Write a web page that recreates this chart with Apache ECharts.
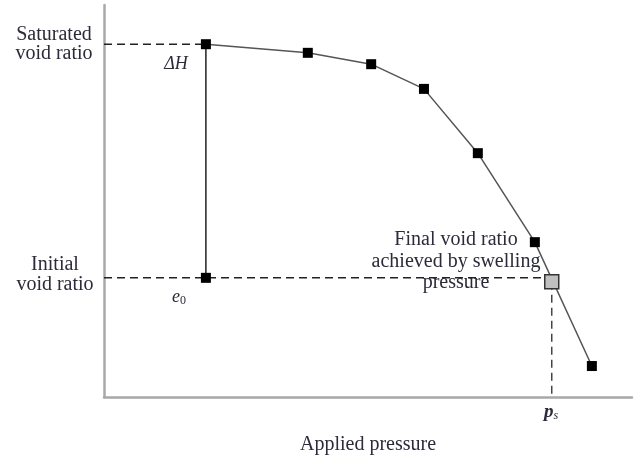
<!DOCTYPE html>
<html><head><meta charset="utf-8">
<script src="https://cdn.jsdelivr.net/npm/echarts@6/dist/echarts.min.js"></script>
<style>html,body{margin:0;padding:0;background:#fff}#c{width:641px;height:462px}</style>
</head><body><div id="c"></div>
<script>
// Applied pressure (arbitrary units) and void ratio (arbitrary units)
const pressure = [19.3, 38.6, 50.6, 60.6, 70.8, 81.6, 92.4];
const voidRatio = [90.0, 87.8, 84.9, 78.6, 62.2, 39.5, 7.9];
const saturatedE = 90.0;
const initialE = 30.4;
const startP = 19.3;
const swellP = 84.8;
const finalE = 29.4;

const chart = echarts.init(document.getElementById('c'));
const F = 'Liberation Serif';
const txt = '#2b2b3a';
function st(o) { return Object.assign({fontFamily: F, fontSize: 20, fill: txt, align: 'center'}, o); }
chart.setOption({
  animation: false,
  grid: {left: 104, right: 9, top: 5, bottom: 65},
  xAxis: {type: 'value', min: 0, max: 100, splitLine: {show: false}, axisTick: {show: false}, axisLabel: {show: false},
    axisLine: {show: true, onZero: false, lineStyle: {color: '#a8a8a8', width: 2.5}}},
  yAxis: {type: 'value', min: 0, max: 100, splitLine: {show: false}, axisTick: {show: false}, axisLabel: {show: false},
    axisLine: {show: true, onZero: false, lineStyle: {color: '#a8a8a8', width: 2.5}}},
  series: [
    {type: 'line', data: [[0, saturatedE], [startP, saturatedE]], symbol: 'none', lineStyle: {color: '#222', width: 1.5, type: [8, 5]}, z: 1},
    {type: 'line', data: [[0, initialE], [swellP, initialE]], symbol: 'none', lineStyle: {color: '#222', width: 1.5, type: [8, 5]}, z: 1},
    {type: 'line', data: [[swellP, finalE], [swellP, 0]], symbol: 'none', lineStyle: {color: '#444', width: 1.5, type: [8, 5]}, z: 1},
    {type: 'line', data: [[startP, saturatedE], [startP, initialE]], symbol: 'none', lineStyle: {color: '#111', width: 1.4}, z: 1},
    {type: 'line', data: pressure.map((p, i) => [p, voidRatio[i]]), symbol: 'rect', symbolSize: 10,
      itemStyle: {color: '#000', opacity: 1}, lineStyle: {color: '#555', width: 1.5}, z: 3},
    {type: 'scatter', data: [[startP, initialE]], symbol: 'rect', symbolSize: 10, itemStyle: {color: '#000', opacity: 1}, z: 3},
    {type: 'scatter', data: [[swellP, finalE]], symbol: 'rect', symbolSize: 14, itemStyle: {color: '#c0c0c0', borderColor: '#333', borderWidth: 1.5, opacity: 1}, z: 4}
  ],
  graphic: [
    {type: 'text', style: st({text: 'Saturated\nvoid ratio', lineHeight: 19, x: 54, y: 25})},
    {type: 'text', style: st({text: 'Initial\nvoid ratio', lineHeight: 20, x: 55, y: 255})},
    {type: 'text', style: st({text: 'ΔH', fontStyle: 'italic', fontSize: 18, x: 176, y: 55})},
    {type: 'text', style: st({text: '{e|e}{s|0}', align: 'left', rich: {e: {fontFamily: F, fontStyle: 'italic', fontSize: 18, fill: txt}, s: {fontFamily: F, fontSize: 12, fill: txt, padding: [8, 0, 0, 0]}}, x: 172, y: 287})},
    {type: 'text', style: st({text: 'Final void ratio\nachieved by swelling\npressure', lineHeight: 21.5, x: 456, y: 229})},
    {type: 'text', style: st({text: '{p|p}{s|s}', align: 'left', rich: {p: {fontFamily: F, fontStyle: 'italic', fontWeight: 'bold', fontSize: 19, fill: txt}, s: {fontFamily: F, fontStyle: 'italic', fontSize: 12, fill: txt, padding: [8, 0, 0, 0]}}, x: 544, y: 402})},
    {type: 'text', style: st({text: 'Applied pressure', x: 368, y: 435})}
  ]
});
</script></body></html>
